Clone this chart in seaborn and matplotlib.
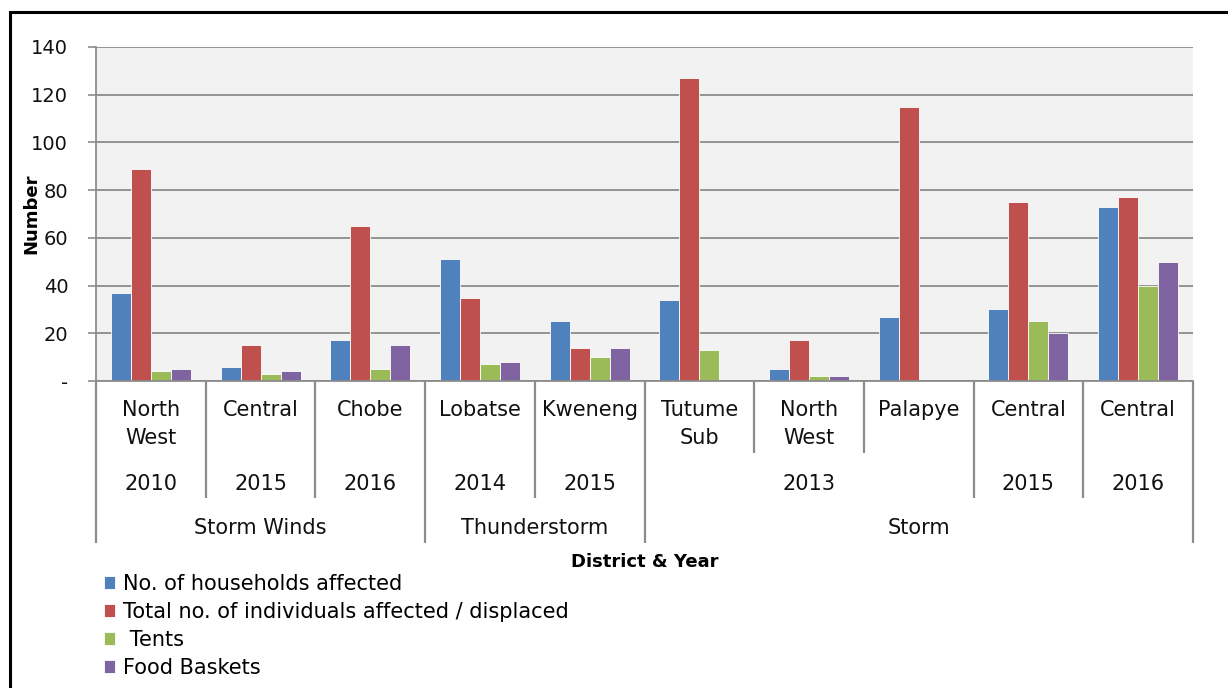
import matplotlib
matplotlib.use("Agg")
import matplotlib.pyplot as plt
import matplotlib.transforms as mtransforms
from matplotlib.patches import Rectangle
import seaborn as sns
import pandas as pd

# ---- data -------------------------------------------------------------
districts = ["North\nWest", "Central", "Chobe", "Lobatse", "Kweneng",
             "Tutume\nSub", "North\nWest", "Palapye", "Central", "Central"]
years = ["2010", "2015", "2016", "2014", "2015",
         "2013", "2013", "2013", "2015", "2016"]
hazards = ["Storm Winds", "Storm Winds", "Storm Winds",
           "Thunderstorm", "Thunderstorm",
           "Storm", "Storm", "Storm", "Storm", "Storm"]

households = [37, 6, 17, 51, 25, 34, 5, 27, 30, 73]
individuals = [89, 15, 65, 35, 14, 127, 17, 115, 75, 77]
tents = [4, 3, 5, 7, 10, 13, 2, 0, 25, 40]
food_baskets = [5, 4, 15, 8, 14, 0, 2, 0, 20, 50]

series_names = ["No. of households affected",
                "Total no. of individuals affected / displaced",
                " Tents",
                "Food Baskets"]
series_values = [households, individuals, tents, food_baskets]
series_colors = ["#4F81BD", "#C0504D", "#9BBB59", "#8064A2"]

y_ticks = [0, 20, 40, 60, 80, 100, 120, 140]
y_tick_labels = ["-", "20", "40", "60", "80", "100", "120", "140"]

# ---- long-form table ---------------------------------------------------
keys = [f"{h}|{y}|{d}" for h, y, d in zip(hazards, years, districts)]
rows = []
for name, vals in zip(series_names, series_values):
    for k, v in zip(keys, vals):
        rows.append({"key": k, "series": name, "value": v})
df = pd.DataFrame(rows)

# ---- figure ------------------------------------------------------------
W, H = 1228, 688
fig = plt.figure(figsize=(W / 100, H / 100), dpi=100)
fig.patch.set_facecolor("white")

ax_left, ax_right, ax_top, ax_bottom = 96, 1193, 47, 381
ax = fig.add_axes([ax_left / W, 1 - ax_bottom / H,
                   (ax_right - ax_left) / W, (ax_bottom - ax_top) / H])
ax.set_facecolor("#F2F2F2")

sns.barplot(data=df, x="key", y="value", hue="series", order=keys,
            hue_order=series_names, palette=series_colors, saturation=1,
            width=0.73, gap=0, errorbar=None, ax=ax,
            edgecolor="white", linewidth=0.6, legend=True)

FONT = "DejaVu Sans"
grid_c = "#8C8C8C"
TXT = 15

ax.set_ylim(0, 140)
ax.set_xlim(-0.5, len(keys) - 0.5)
ax.set_yticks(y_ticks)
ax.set_yticklabels(y_tick_labels, fontsize=14, family=FONT, color="#111111")
ax.yaxis.grid(True, color=grid_c, linewidth=1.3)
ax.set_axisbelow(True)
ax.tick_params(axis="y", length=6, width=1.2, color=grid_c, pad=14)
ax.tick_params(axis="x", length=0, labelbottom=False)
ax.set_xlabel("")
ax.set_ylabel("Number", fontsize=13, fontweight="bold", family=FONT)
ax.yaxis.set_label_coords((40 - ax_left) / (ax_right - ax_left), 0.5)
for s in ["top", "right"]:
    ax.spines[s].set_visible(False)
for s in ["left", "bottom"]:
    ax.spines[s].set_color(grid_c)
    ax.spines[s].set_linewidth(1.3)

# ---- multi-level category axis ----------------------------------------
trans = mtransforms.blended_transform_factory(ax.transData, ax.transAxes)
ah = ax_bottom - ax_top


def ay(px):
    return (ax_bottom - px) / ah


row_district_end, row_year_end, row_hazard_end = 453, 498, 543
n = len(keys)
bounds = [(-0.5, row_hazard_end)]
for i in range(n - 1):
    if hazards[i] != hazards[i + 1]:
        end = row_hazard_end
    elif years[i] != years[i + 1]:
        end = row_year_end
    else:
        end = row_district_end
    bounds.append((i + 0.5, end))
bounds.append((n - 0.5, row_hazard_end))
for xb, end in bounds:
    ax.plot([xb, xb], [0, ay(end)], transform=trans, color=grid_c,
            linewidth=1.6, clip_on=False, solid_capstyle="butt")

# district labels
for i, d in enumerate(districts):
    ax.text(i, ay(400), d, transform=trans, ha="center", va="top",
            fontsize=TXT, family=FONT, linespacing=1.5, color="#111111")


def runs(labels_a, labels_b=None):
    out = []
    start = 0
    for i in range(1, n + 1):
        same = i < n and labels_a[i] == labels_a[start] and (
            labels_b is None or labels_b[i] == labels_b[start])
        if not same:
            out.append((start, i - 1))
            start = i
    return out


for s, e in runs(years, hazards):
    ax.text((s + e) / 2, ay(484), years[s], transform=trans, ha="center",
            va="center", fontsize=TXT, family=FONT, color="#111111")
for s, e in runs(hazards):
    ax.text((s + e) / 2, ay(528), hazards[s], transform=trans, ha="center",
            va="center", fontsize=TXT, family=FONT, color="#111111")

ax.text(0.5, ay(562), "District & Year", transform=ax.transAxes,
        ha="center", va="center", fontsize=13, fontweight="bold", family=FONT)

# ---- legend ------------------------------------------------------------
handles, labels = ax.get_legend_handles_labels()
ax.get_legend().remove()
fig.legend(handles, labels, loc="upper left",
           bbox_to_anchor=(104 / W, 1 - 574 / H), frameon=False,
           prop={"family": FONT, "size": TXT},
           handlelength=0.55, handleheight=0.55, handletextpad=0.35,
           labelspacing=0.38, borderpad=0, borderaxespad=0)

# ---- outer frame -------------------------------------------------------
fig.add_artist(Rectangle((10 / W, -0.5), 2.0, 1.5 - 12 / H,
                         transform=fig.transFigure, fill=False,
                         edgecolor="black", linewidth=2.2, clip_on=False))

fig.savefig("out.png", dpi=100)
